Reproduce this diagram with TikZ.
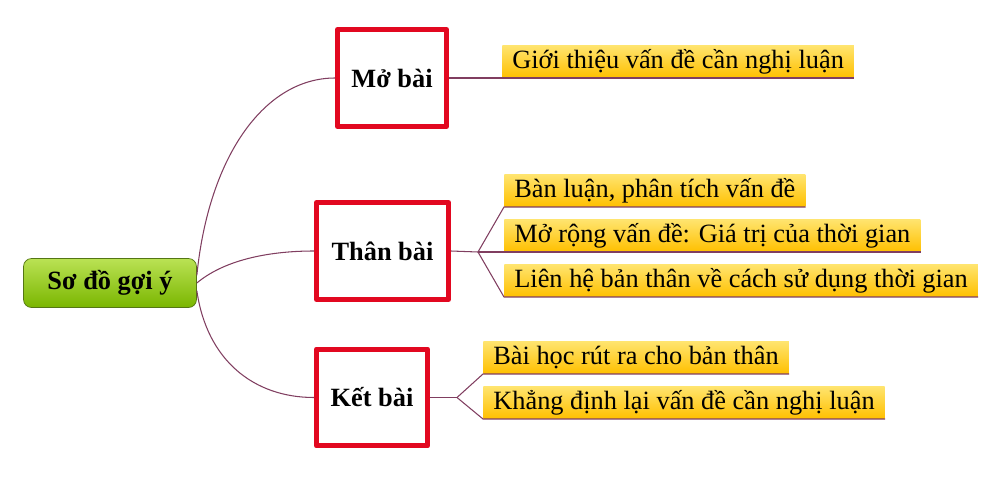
\documentclass[tikz,border=0pt]{standalone}
\usepackage{fontspec}
\setmainfont{Liberation Serif}
\usetikzlibrary{shapes,arrows}
\definecolor{linkcol}{RGB}{128,62,96}
\definecolor{partred}{RGB}{226,8,32}
\definecolor{leaftop}{RGB}{255,228,110}
\definecolor{leafbot}{RGB}{255,192,0}
\definecolor{roottop}{RGB}{186,226,84}
\definecolor{rootbot}{RGB}{122,182,0}
\definecolor{rootline}{RGB}{84,118,20}

\begin{document}
\begin{tikzpicture}[x=0.02cm,y=-0.02cm,line join=round]
	\def \leafx{504}
	\def \ketleafx{483}
	\tikzstyle{root-node}=[draw=rootline,rounded corners=0.16cm,top color=roottop,bottom color=rootbot,minimum width=3.46cm,minimum height=0.98cm,font=\fontsize{15}{18}\selectfont\bfseries]
	\tikzstyle{part-node}=[draw=partred,line width=0.1cm,fill=white,minimum height=1.94cm,font=\fontsize{15}{18}\selectfont\bfseries]
	\tikzstyle{leaf-node}=[anchor=south west,top color=leaftop,bottom color=leafbot,inner xsep=0.2cm,inner ysep=0pt,minimum height=0.64cm,font=\fontsize{15}{18}\selectfont]
	\tikzstyle{link}=[draw=linkcol,line width=0.6pt]
	\useasboundingbox (0,0) rectangle (1001,477);

	% root
	\node[root-node] (root) at (110,283) {Sơ đồ gợi ý};

	% parts
	\node[part-node,minimum width=2.18cm] (mo)   at (392,78)    {Mở bài};
	\node[part-node,minimum width=2.64cm] (than) at (382.5,251) {Thân bài};
	\node[part-node,minimum width=2.22cm] (ket)  at (372,397.5) {Kết bài};

	% leaves
	\node[leaf-node] (mo1)   at (502,78)        {Giới thiệu vấn đề cần nghị luận};
	\node[leaf-node] (than1) at (\leafx,207)    {Bàn luận, phân tích vấn đề};
	\node[leaf-node] (than2) at (\leafx,252)    {Mở rộng vấn đề: Giá trị của thời gian};
	\node[leaf-node] (than3) at (\leafx,297)    {Liên hệ bản thân về cách sử dụng thời gian};
	\node[leaf-node] (ket1)  at (\ketleafx,374) {Bài học rút ra cho bản thân};
	\node[leaf-node] (ket2)  at (\ketleafx,419) {Khẳng định lại vấn đề cần nghị luận};

	\coordinate (thanfork) at (478,252);
	\coordinate (ketfork)  at (457,397.5);

	% root to parts
	\draw[link] (root.5) .. controls +(12,-120) and +(-70,0) .. (mo.west);
	\draw[link] (root.east) .. controls +(30,-25) and +(-40,0) .. (than.west);
	\draw[link] (root.-5) .. controls +(10,70) and +(-60,0) .. (ket.west);

	% parts to leaves
	\draw[link] (mo.east) -- (mo1.south west) -- (mo1.south east);
	%
	\draw[link] (than.east) -- (thanfork);
	\draw[link] (thanfork) -- (than1.south west) -- (than1.south east);
	\draw[link] (thanfork) -- (than2.south west) -- (than2.south east);
	\draw[link] (thanfork) -- (than3.south west) -- (than3.south east);
	%
	\draw[link] (ket.east) -- (ketfork);
	\draw[link] (ketfork) -- (ket1.south west) -- (ket1.south east);
	\draw[link] (ketfork) -- (ket2.south west) -- (ket2.south east);
\end{tikzpicture}
\end{document}
